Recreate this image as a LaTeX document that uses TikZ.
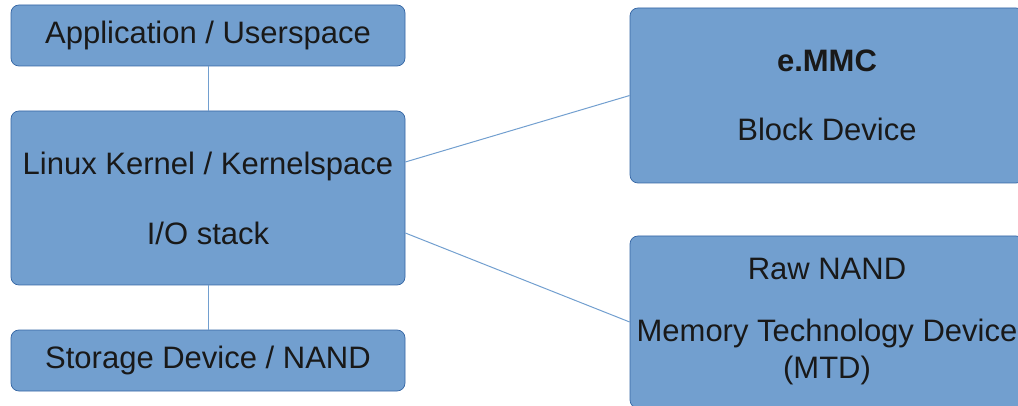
\documentclass[tikz,border=0pt]{standalone}
\usepackage{fontspec}
\setmainfont{Liberation Sans}
\definecolor{boxfill}{HTML}{729FCF}
\definecolor{boxedge}{HTML}{3465A4}
\definecolor{connline}{HTML}{729FCF}
\begin{document}
\begin{tikzpicture}[x=1pt,y=-1pt,
  blk/.style={draw=boxedge, fill=boxfill, rounded corners=8pt, line width=0.7pt,
    minimum width=394pt, align=center, inner sep=0pt, text=black!90,
    font=\fontsize{31}{37}\selectfont},
  conn/.style={draw=connline, line width=1pt}]
\clip (0,0) rectangle (1018,406);
\node[blk, minimum height=61pt] (app) at (208,35.5) {Application / Userspace};
\node[blk, minimum height=174pt] (kern) at (208,198) {Linux Kernel / Kernelspace\\[33pt]I/O stack};
\node[blk, minimum height=61pt] (stor) at (208,360.5) {Storage Device / NAND};
\node[blk, minimum height=175pt] (emmc) at (827,95.5) {\textbf{e.MMC}\\[32pt]Block Device};
\node[blk, minimum height=172pt] (raw) at (827,322) {Raw NAND\\[25pt]Memory Technology Device\\(MTD)};
\draw[conn] (app) -- (kern);
\draw[conn] (kern) -- (stor);
\draw[conn] ([yshift=36pt]kern.east) -- (emmc.west);
\draw[conn] ([yshift=-35pt]kern.east) -- (raw.west);
\end{tikzpicture}
\end{document}
